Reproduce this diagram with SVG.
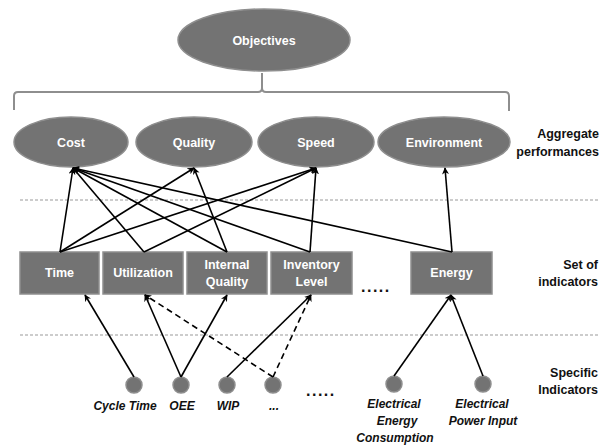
<svg xmlns="http://www.w3.org/2000/svg" width="601" height="448" viewBox="0 0 601 448">
<style>
.n{fill:#737373;stroke:#8e8e8e;stroke-width:1.5}
.t{font-family:"Liberation Sans",Arial,sans-serif;font-weight:bold;font-size:12.5px;fill:#ffffff;text-anchor:middle}
.s{font-family:"Liberation Sans",Arial,sans-serif;font-weight:bold;font-size:12px;fill:#111;text-anchor:middle;font-style:italic}
.r{font-family:"Liberation Sans",Arial,sans-serif;font-weight:bold;font-size:12.5px;fill:#111;text-anchor:end}
.e{stroke:#000;stroke-width:1.6;fill:none;marker-end:url(#a)}
.d{stroke-dasharray:6,4}
.g{stroke:#999;stroke-width:1;stroke-dasharray:3,2;fill:none}
.dots{font-family:"Liberation Sans",Arial,sans-serif;font-weight:bold;font-size:16px;fill:#111;letter-spacing:1.5px}
</style>
<defs>
<marker id="a" viewBox="0 0 10 10" refX="9" refY="5" markerWidth="7" markerHeight="7" markerUnits="userSpaceOnUse" orient="auto">
<path d="M0,0 L10,5 L0,10 L3,5 Z" fill="#000"/>
</marker>
</defs>
<rect width="601" height="448" fill="#fff"/>
<line class="g" x1="20" y1="200" x2="600" y2="200"/>
<line class="g" x1="20" y1="335" x2="600" y2="335"/>
<path d="M14,110 L14,96 Q14,92 18,92 L258,92 Q262,92 262,88 L262,73 M262,88 Q262,92 266,92 L505,92 Q509,92 509,96 L509,111" fill="none" stroke="#8e8e8e" stroke-width="2"/>
<g id="objectives"><ellipse class="n" cx="264" cy="40" rx="86" ry="31"/><text class="t" x="264" y="45">Objectives</text></g>
<g id="cost"><ellipse class="n" cx="71" cy="142" rx="57" ry="25"/><text class="t" x="71" y="147">Cost</text></g>
<g id="quality"><ellipse class="n" cx="194" cy="142" rx="58" ry="25"/><text class="t" x="194" y="147">Quality</text></g>
<g id="speed"><ellipse class="n" cx="316" cy="142" rx="58" ry="25"/><text class="t" x="316" y="147">Speed</text></g>
<g id="environment"><ellipse class="n" cx="444" cy="142" rx="66" ry="25"/><text class="t" x="444" y="147">Environment</text></g>
<text class="r" x="599" y="138">Aggregate</text>
<text class="r" x="599" y="156">performances</text>
<g id="time"><rect class="n" x="20" y="252" width="79" height="42"/><text class="t" x="59.5" y="277">Time</text></g>
<g id="utilization"><rect class="n" x="103" y="252" width="80" height="42"/><text class="t" x="143" y="277">Utilization</text></g>
<g id="internal-quality"><rect class="n" x="187" y="252" width="80" height="42"/><text class="t" x="227" y="269">Internal</text><text class="t" x="227" y="286">Quality</text></g>
<g id="inventory-level"><rect class="n" x="271" y="252" width="81" height="42"/><text class="t" x="311.5" y="269">Inventory</text><text class="t" x="311.5" y="286">Level</text></g>
<g id="energy"><rect class="n" x="411" y="252" width="81" height="42"/><text class="t" x="451.5" y="277">Energy</text></g>
<text class="dots" x="361" y="292">.....</text>
<text class="r" x="598" y="269">Set of</text>
<text class="r" x="598" y="286">indicators</text>
<g id="cycle-time"><circle class="n" cx="134" cy="385" r="8"/><text class="s" x="125" y="410">Cycle Time</text></g>
<g id="oee"><circle class="n" cx="181" cy="385" r="8"/><text class="s" x="182" y="410">OEE</text></g>
<g id="wip"><circle class="n" cx="227" cy="385" r="8"/><text class="s" x="228" y="410">WIP</text></g>
<g id="etc"><circle class="n" cx="273" cy="385" r="8"/><text class="s" x="274" y="410">...</text></g>
<g id="eec"><circle class="n" cx="394" cy="384" r="8"/><text class="s" x="394" y="408">Electrical</text><text class="s" x="397" y="425">Energy</text><text class="s" x="395" y="442">Consumption</text></g>
<g id="epi"><circle class="n" cx="483" cy="384" r="8"/><text class="s" x="482" y="408">Electrical</text><text class="s" x="483" y="425">Power Input</text></g>
<text class="dots" x="306" y="396">.....</text>
<text class="r" x="598" y="377">Specific</text>
<text class="r" x="598" y="394">Indicators</text>
<g id="connectors">
<line class="e" x1="60" y1="252" x2="73" y2="168"/>
<line class="e" x1="60" y1="252" x2="194" y2="168"/>
<line class="e" x1="60" y1="252" x2="316" y2="168"/>
<line class="e" x1="144" y1="252" x2="73" y2="168"/>
<line class="e" x1="144" y1="252" x2="316" y2="168"/>
<line class="e" x1="227" y1="252" x2="73" y2="168"/>
<line class="e" x1="227" y1="252" x2="194" y2="168"/>
<line class="e" x1="310" y1="252" x2="73" y2="168"/>
<line class="e" x1="310" y1="252" x2="316" y2="168"/>
<line class="e" x1="452" y1="252" x2="73" y2="168"/>
<line class="e" x1="452" y1="252" x2="445" y2="168"/>
<line class="e" x1="134" y1="377" x2="85" y2="295"/>
<line class="e" x1="181" y1="377" x2="145" y2="295"/>
<line class="e" x1="181" y1="377" x2="227" y2="295"/>
<line class="e" x1="227" y1="377" x2="311" y2="295"/>
<line class="e d" x1="273" y1="377" x2="145" y2="295"/>
<line class="e d" x1="273" y1="377" x2="311" y2="295"/>
<line class="e" x1="394" y1="376" x2="451" y2="295"/>
<line class="e" x1="483" y1="376" x2="451" y2="295"/>
</g>
</svg>
